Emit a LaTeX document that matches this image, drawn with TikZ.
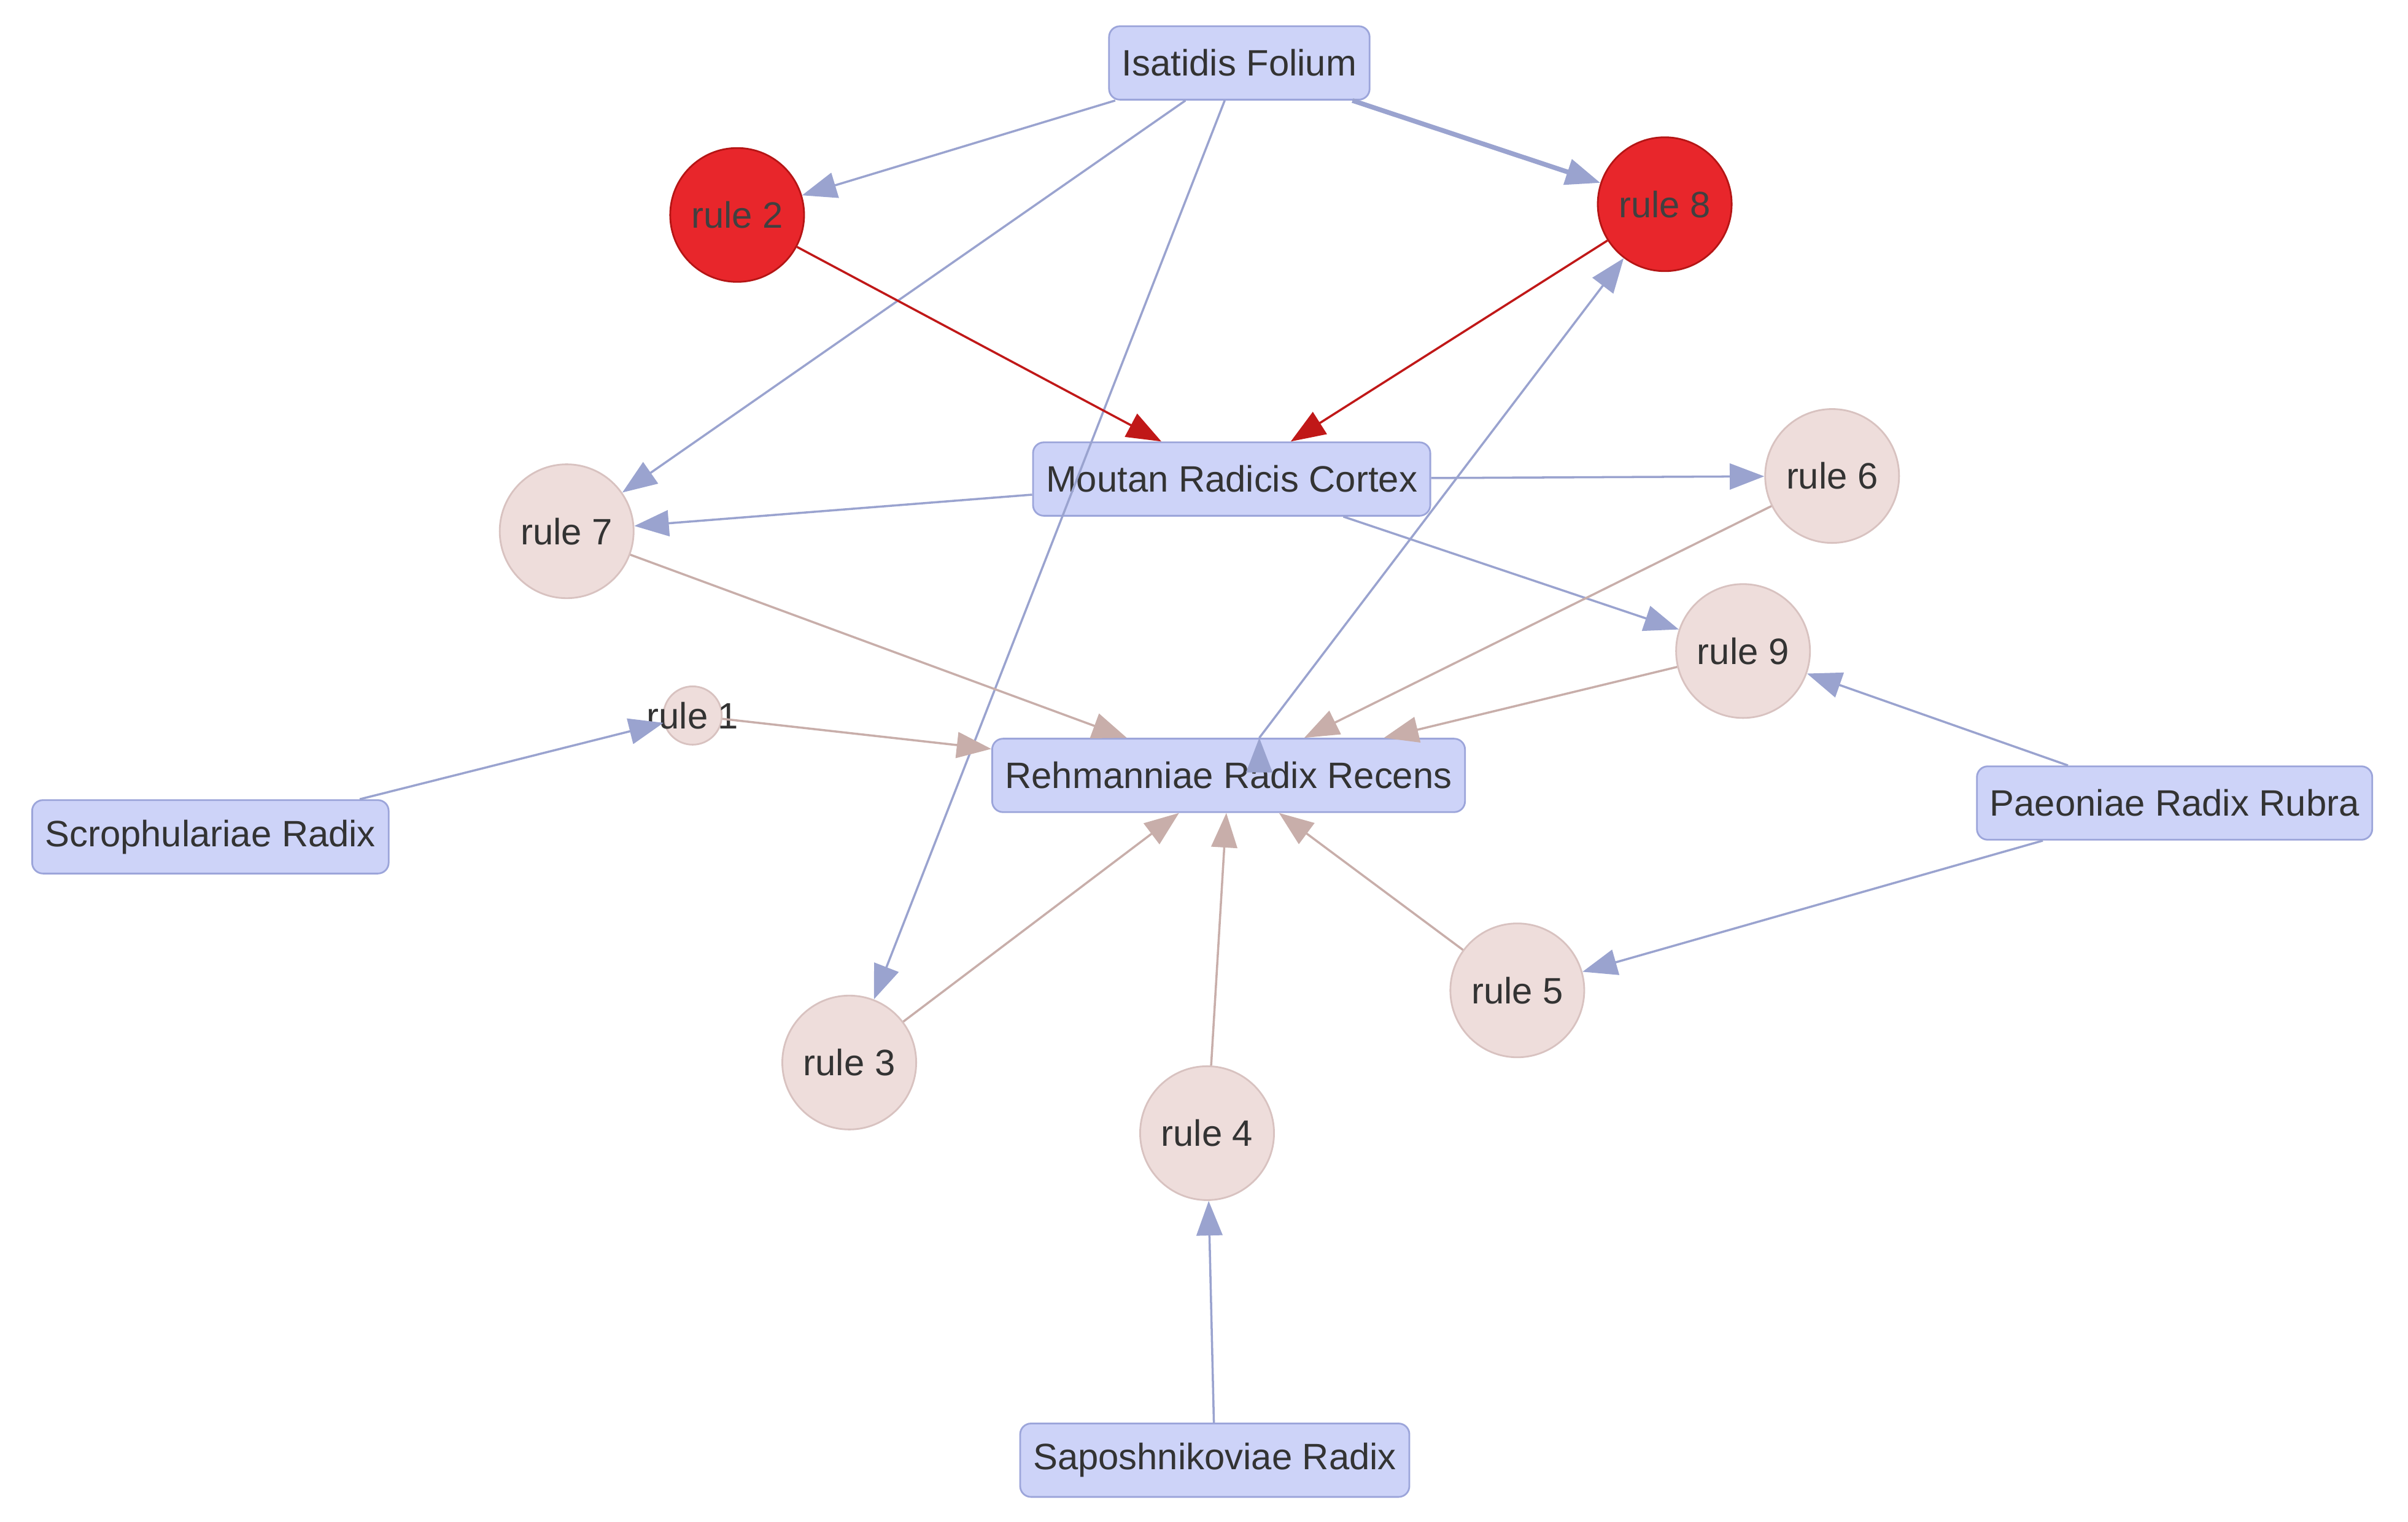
\documentclass[tikz,border=0pt]{standalone}
\usepackage{fontspec}
\setmainfont{Liberation Sans}
\usetikzlibrary{arrows.meta}
\definecolor{boxf}{HTML}{CDD3F8}
\definecolor{boxd}{HTML}{9CA5DA}
\definecolor{bl}{HTML}{9AA3CF}
\definecolor{redf}{HTML}{E8262B}
\definecolor{redd}{HTML}{B51515}
\definecolor{redl}{HTML}{C01818}
\definecolor{pinkf}{HTML}{EEDDDB}
\definecolor{pinkd}{HTML}{D8C2C0}
\definecolor{pl}{HTML}{C8AEAA}
\tikzset{
 box/.style={draw=boxd,fill=boxf,rounded corners=5pt,line width=0.8pt,font=\fontsize{17}{20}\selectfont,text=black!80,inner xsep=6pt,minimum height=34pt},
 rr/.style={circle,draw=redd,fill=redf,line width=0.8pt,minimum size=62pt,inner sep=0pt,font=\fontsize{17}{20}\selectfont,text=black!75},
 pr/.style={circle,draw=pinkd,fill=pinkf,line width=0.8pt,minimum size=62pt,inner sep=0pt,font=\fontsize{17}{20}\selectfont,text=black!80},
 ar/.style={-{Triangle[length=16pt,width=12pt]},line width=1pt},
 b/.style={ar,draw=bl,fill=bl},
 r/.style={ar,draw=redl,fill=redl},
 p/.style={ar,draw=pl,fill=pl},
}
\begin{document}
\begin{tikzpicture}[x=0.025cm,y=-0.025cm]
\useasboundingbox (0,0) rectangle (1568,991);
\node[box] (isa) at (807,41) {Isatidis Folium};
\node[rr] (r2) at (480,140) {rule 2};
\node[rr] (r8) at (1084,133) {rule 8};
\node[box] (mou) at (802,312) {Moutan Radicis Cortex};
\node[pr] (r7) at (369,346) {rule 7};
\node[pr] (r6) at (1193,310) {rule 6};
\node[pr] (r9) at (1135,424) {rule 9};
\node[pr,minimum size=27pt] (r1) at (451,466) {};
\node[font=\fontsize{17}{20}\selectfont,text=black!80] at (451,466) {rule 1};
\node[box] (reh) at (800,505) {Rehmanniae Radix Recens};
\node[box] (scr) at (137,545) {Scrophulariae Radix};
\node[box] (pae) at (1416,523) {Paeoniae Radix Rubra};
\node[pr] (r5) at (988,645) {rule 5};
\node[pr] (r3) at (553,692) {rule 3};
\node[pr] (r4) at (786,738) {rule 4};
\node[box] (sap) at (791,951) {Saposhnikoviae Radix};

\draw[b] (isa) -- (r2);
\draw[b] (isa) -- (r7);
\draw[b] (isa) -- (r3);
\draw[b,line width=2.2pt] (isa) -- (r8);
\draw[b] (mou) -- (r7);
\draw[b] (mou) -- (r6);
\draw[b] (mou) -- (r9);
\draw[b] (reh.north) ++(20,0) coordinate (rn) ;
\draw[b] (rn) -- (r8);
\draw[b] (scr) -- (r1);
\draw[b] (pae) -- (r9);
\draw[b] (pae) -- (r5);
\draw[b] (sap) -- (r4);
\draw[r] (r2) -- (mou);
\draw[r] (r8) -- (mou);
\draw[p] (r7) -- (reh);
\draw[p] (r1) -- (reh);
\draw[p] (r6) -- (reh);
\draw[p] (r9) -- (reh);
\draw[p] (r3) -- (reh);
\draw[p] (r4) -- (reh);
\draw[p] (r5) -- (reh);
\end{tikzpicture}
\end{document}
